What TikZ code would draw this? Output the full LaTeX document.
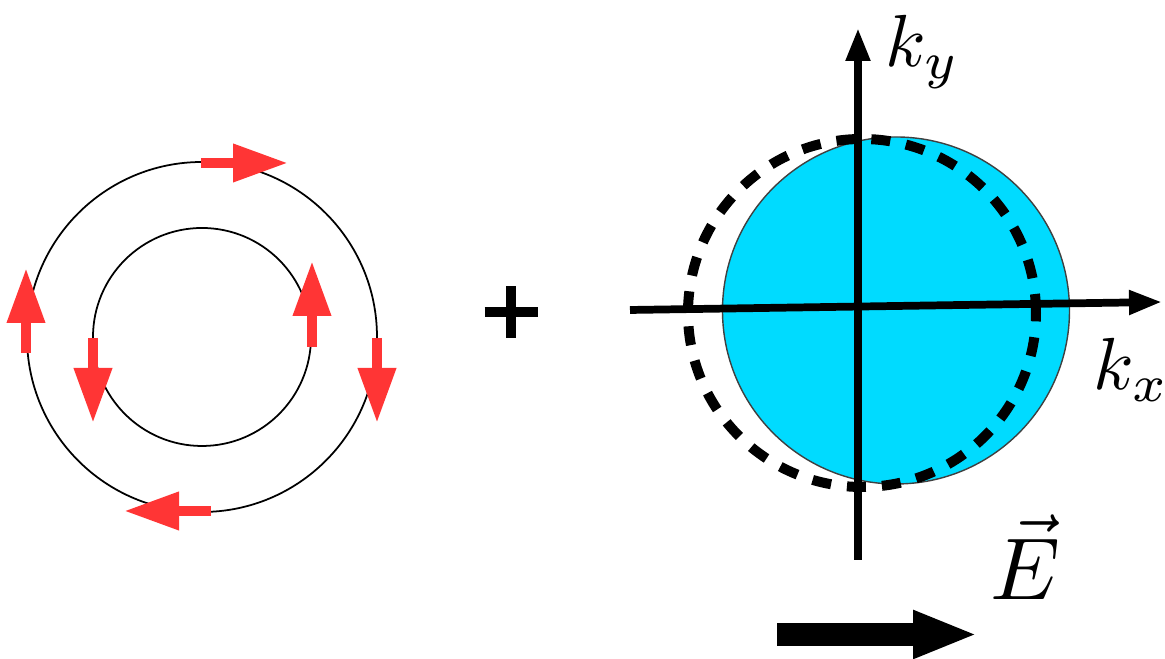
\documentclass[tikz,border=0pt]{standalone}
\usepackage{amsmath}
\usepackage{graphicx}
\usepackage{xcolor}
\usepackage{tikz}
\usetikzlibrary{positioning,arrows.meta}

\definecolor{spinred}{RGB}{255,53,53}
\definecolor{fermiblue}{RGB}{0,219,255}

\begin{document}
\begin{tikzpicture}[
  ring/.style={draw, line width=0.5pt},
  spin/.style={draw=spinred, line width=1mm, -{Triangle[length=5.5mm, width=3.6mm]}},
  fermi/.style={fill=fermiblue, draw=black!75, line width=0.4pt},
  shifted/.style={draw, line width=1mm, dash pattern=on 1.9mm off 1.6mm},
  axis/.style={draw, line width=2.2pt, -{Triangle[length=3.3mm, width=2.3mm]}},
  field/.style={draw, line width=2.3mm, -{Triangle[length=6.5mm, width=4.4mm]}},
  lbl/.style={inner sep=0pt, anchor=base west},
  >=Stealth
]
\useasboundingbox (0,0) rectangle (11.65,6.59);

% left: two rings with spin arrows
\coordinate (c) at (2.02,3.22);
\draw[ring] (c) circle (1.75);
\draw[ring] (c) circle (1.09);
\draw[spin] (2.01,4.96) -- (2.88,4.96);
\draw[spin] (2.11,1.48) -- (1.24,1.48);
\draw[spin] (0.26,3.06) -- (0.26,3.91);
\draw[spin] (3.77,3.21) -- (3.77,2.36);
\draw[spin] (0.93,3.21) -- (0.93,2.36);
\draw[spin] (3.12,3.12) -- (3.12,3.98);

% plus sign
\coordinate (plus) at (5.11,3.47);
\draw[line width=1mm] ([xshift=-2.65mm]plus) -- ([xshift=2.65mm]plus);
\draw[line width=1mm] ([yshift=-2.6mm]plus) -- ([yshift=2.6mm]plus);

% right: shifted Fermi disc
\fill[fermi] (8.96,3.485) circle (1.735);
\draw[shifted] (8.62,3.46) circle (1.74);
\draw[axis] (6.30,3.49) -- (11.62,3.57);
\draw[axis] (8.58,0.99) -- (8.58,6.31);

\node[lbl] (ky) at (8.85,5.92) {\scalebox{2.1}{$k_y$}};
\node[lbl] (kx) at (10.93,2.69) {\scalebox{2.1}{$k_x$}};
\node[lbl] (E) at (9.90,0.59) {\scalebox{2.5}{$\vec{E}$}};

\draw[field] (7.77,0.245) -- (9.78,0.245);
\end{tikzpicture}
\end{document}
